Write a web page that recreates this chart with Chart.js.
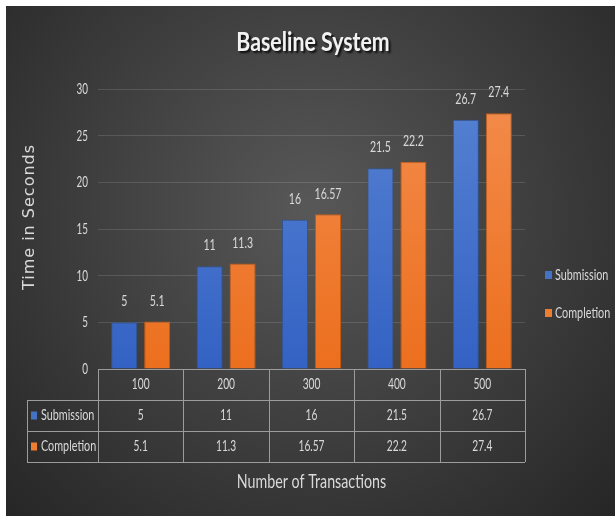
<!DOCTYPE html>
<html>
<head>
<meta charset="utf-8">
<script src="https://cdn.jsdelivr.net/npm/chart.js@4/dist/chart.umd.min.js"></script>
<style>
  body { margin: 0; background: #fff; }
  #wrap { width: 615px; height: 517px; }
</style>
</head>
<body>
<div id="wrap"><canvas id="chart" width="615" height="517"></canvas></div>
<script>
const categories = ['100', '200', '300', '400', '500'];
const seriesNames = ['Submission', 'Completion'];
const submission = [5, 11, 16, 21.5, 26.7];
const completion = [5.1, 11.3, 16.57, 22.2, 27.4];

const FONT = "Lato, 'Noto Sans', sans-serif";
const TEXT = '#d9d9d9';
const BLUE = ['#5682d2', '#3462c4'];
const ORANGE = ['#f38c4c', '#ec6f1e'];
const swatch = ['#4472c4', '#ed7d31'];

function barGradient(colors) {
    return function(context) {
        const chart = context.chart;
        const area = chart.chartArea;
        if (!area) return colors[0];
        const g = chart.ctx.createLinearGradient(0, area.top, 0, area.bottom);
        g.addColorStop(0, colors[0]);
        g.addColorStop(1, colors[1]);
        return g;
    };
}

// the original uses a condensed font, so squeeze the text horizontally
function narrow(ctx, text, x, y, size, sx, align, weight) {
    ctx.save();
    ctx.font = (weight || 'normal') + ' ' + size + 'px ' + FONT;
    ctx.translate(x, y);
    ctx.scale(sx, 1);
    ctx.textAlign = align || 'center';
    ctx.textBaseline = 'middle';
    ctx.fillText(text, 0, 0);
    ctx.restore();
}

// background, texts, value labels, data table and legend
const decorations = {
    id: 'decorations',
    beforeDraw(chart) {
        const ctx = chart.ctx;
        ctx.save();
        ctx.fillStyle = '#ffffff';
        ctx.fillRect(0, 0, chart.width, chart.height);
        const g = ctx.createRadialGradient(310, 210, 0, 310, 210, 430);
        g.addColorStop(0, '#585858');
        g.addColorStop(1, '#262626');
        ctx.fillStyle = g;
        ctx.fillRect(6, 6, chart.width - 6, chart.height - 7);
        ctx.restore();
    },
    afterDraw(chart) {
        const ctx = chart.ctx;
        const area = chart.chartArea;
        const x = chart.scales.x;
        const y = chart.scales.y;
        ctx.save();

        // title
        ctx.save();
        ctx.shadowColor = 'rgba(0,0,0,0.8)';
        ctx.shadowOffsetX = 2;
        ctx.shadowOffsetY = 2;
        ctx.shadowBlur = 2;
        ctx.fillStyle = '#f2f2f2';
        narrow(ctx, 'Baseline System', 313, 42, 27, 0.79, 'center', 'bold');
        ctx.restore();

        ctx.fillStyle = TEXT;

        // y tick labels
        y.ticks.forEach(t => {
            narrow(ctx, String(t.value), 88, y.getPixelForValue(t.value), 15, 0.66, 'right');
        });

        // axis titles
        ctx.save();
        ctx.translate(30, 217);
        ctx.rotate(-Math.PI / 2);
        ctx.font = '16px ' + "'DejaVu Sans', sans-serif";
        ctx.letterSpacing = '1px';
        ctx.textAlign = 'center';
        ctx.textBaseline = 'middle';
        ctx.fillText('Time in Seconds', 0, 0);
        ctx.restore();
        narrow(ctx, 'Number of Transactions', (area.left + area.right) / 2, 482, 19, 0.75);

        // value labels above bars
        chart.data.datasets.forEach((ds, di) => {
            chart.getDatasetMeta(di).data.forEach((bar, i) => {
                narrow(ctx, String(ds.data[i]), bar.x, bar.y - 21, 16, 0.66);
            });
        });

        // data table
        const colW = (x.right - x.left) / categories.length;
        const rowH = 31;
        const top = area.bottom;
        const labelLeft = 27;
        ctx.strokeStyle = '#9c9c9c';
        ctx.lineWidth = 1;
        ctx.beginPath();
        ctx.moveTo(x.left, top + 0.5); ctx.lineTo(x.right, top + 0.5);
        for (let r = 1; r <= 3; r++) {
            ctx.moveTo(labelLeft, top + r * rowH + 0.5);
            ctx.lineTo(x.right, top + r * rowH + 0.5);
        }
        for (let c = 0; c <= categories.length; c++) {
            const px = Math.round(x.left + c * colW) + 0.5;
            ctx.moveTo(px, top);
            ctx.lineTo(px, top + 3 * rowH);
        }
        ctx.moveTo(labelLeft + 0.5, top + rowH);
        ctx.lineTo(labelLeft + 0.5, top + 3 * rowH);
        ctx.stroke();

        categories.forEach((c, i) => {
            narrow(ctx, c, x.getPixelForTick(i), top + rowH / 2, 15, 0.68);
        });
        chart.data.datasets.forEach((ds, di) => {
            const cy = top + (di + 1.5) * rowH;
            ds.data.forEach((v, i) => {
                narrow(ctx, String(v), x.getPixelForTick(i), cy, 15, 0.68);
            });
            ctx.fillStyle = swatch[di];
            ctx.fillRect(31, cy - 4, 6, 8);
            ctx.fillStyle = TEXT;
            narrow(ctx, ds.label, 41, cy, 15, 0.72, 'left');
        });

        // legend
        seriesNames.forEach((name, i) => {
            const ly = 275 + i * 38;
            ctx.fillStyle = swatch[i];
            ctx.fillRect(545, ly - 4, 7, 8);
            ctx.fillStyle = TEXT;
            narrow(ctx, name, 555, ly, 15, 0.72, 'left');
        });
        ctx.restore();
    }
};

new Chart(document.getElementById('chart'), {
    type: 'bar',
    data: {
        labels: categories,
        datasets: [
            {
                label: seriesNames[0],
                data: submission,
                backgroundColor: barGradient(BLUE),
                borderColor: '#2f5597',
                borderWidth: 1,
                categoryPercentage: 0.773,
                barPercentage: 0.79
            },
            {
                label: seriesNames[1],
                data: completion,
                backgroundColor: barGradient(ORANGE),
                borderColor: '#c55a11',
                borderWidth: 1,
                categoryPercentage: 0.773,
                barPercentage: 0.79
            }
        ]
    },
    options: {
        responsive: false,
        devicePixelRatio: 1,
        animation: false,
        layout: { padding: { top: 89, left: 6, right: 90, bottom: 1 } },
        plugins: {
            legend: { display: false },
            title: { display: false },
            tooltip: { enabled: false }
        },
        scales: {
            x: {
                grid: { display: false },
                border: { display: false },
                ticks: { display: false },
                afterFit(scale) { scale.height = 147; }
            },
            y: {
                min: 0,
                max: 30,
                ticks: { stepSize: 5, display: false },
                grid: {
                    color: 'rgba(255,255,255,0.13)',
                    drawTicks: false
                },
                border: { display: false },
                afterFit(scale) { scale.width = 92; }
            }
        }
    },
    plugins: [decorations]
});
</script>
</body>
</html>
